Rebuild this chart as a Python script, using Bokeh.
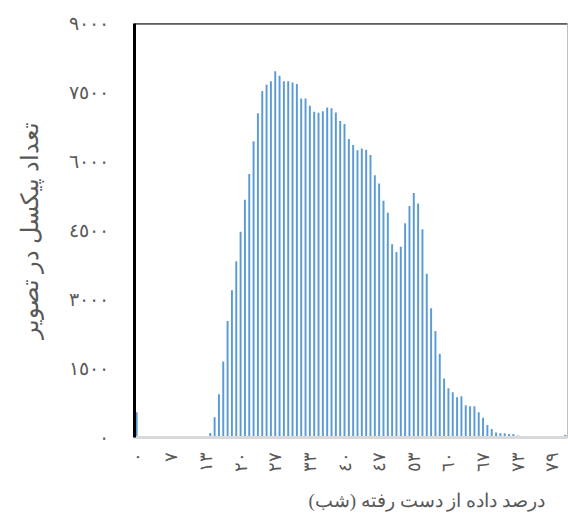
import math
from bokeh.plotting import figure
from bokeh.models import FixedTicker, Span, Title, ColumnDataSource, Range1d
from bokeh.embed import file_html
from bokeh.resources import INLINE

# pixel counts per bin
pixel_counts = [
    550, 0, 0, 0, 0, 0, 0, 0, 0, 0,
    0, 0, 0, 0, 0, 0, 0, 100, 440, 940,
    1650, 2530, 3200, 3830, 4475, 5170, 5730, 6440, 7050, 7530,
    7670, 7745, 7960, 7865, 7745, 7745, 7720, 7685, 7370, 7370,
    7210, 7080, 7060, 7095, 7175, 7155, 7065, 6880, 6815, 6490,
    6360, 6245, 6280, 6255, 6140, 5700, 5520, 5145, 4885, 4200,
    4030, 4145, 4655, 5030, 5315, 5085, 4525, 3560, 2810, 2315,
    1820, 1280, 1070, 985, 875, 895, 700, 680, 680, 550,
    430, 270, 185, 110, 95, 95, 75, 75, 45, 25,
    25, 25, 15, 15, 10, 5, 5, 5, 30, 60,
]
bin_index = list(range(len(pixel_counts)))

# category axis labels (shown every 8th category)
x_tick_labels = ["٠", "٧", "١٣", "٢٠", "٢٧", "٣٣", "٤٠", "٤٧", "٥٣", "٦٠", "٦٧", "٧٣", "٧٩"]
x_tick_index = bin_index[::8]

y_ticks = [0, 1500, 3000, 4500, 6000, 7500, 9000]
y_tick_labels = ["٠", "١٥٠٠", "٣٠٠٠", "٤٥٠٠", "٦٠٠٠", "٧٥٠٠", "٩٠٠٠"]

y_title = "تعداد پیکسل در تصویر"
x_title = "درصد داده از دست رفته (شب)"

FONT = "Liberation Serif"
TEXT = "#595959"

src = ColumnDataSource(dict(x=bin_index, top=pixel_counts))

p = figure(width=568, height=524, output_backend="svg", toolbar_location=None,
           x_range=Range1d(-0.5, len(pixel_counts) - 0.5), y_range=Range1d(0, 9000),
           min_border_left=134, min_border_right=1, min_border_top=23, min_border_bottom=85)

p.vbar(x="x", top="top", width=0.45, bottom=0, source=src,
       fill_color="#5B9BD5", line_color=None)

p.xgrid.grid_line_color = None
p.ygrid.grid_line_color = None
p.outline_line_color = "#BFBFBF"
p.outline_line_width = 1
p.background_fill_color = "white"
p.border_fill_color = "white"

# y axis
p.yaxis.ticker = FixedTicker(ticks=y_ticks)
p.yaxis.major_label_overrides = {t: l for t, l in zip(y_ticks, y_tick_labels)}
p.yaxis.minor_tick_line_color = None
p.yaxis.major_tick_line_color = None
p.yaxis.major_tick_out = 0
p.yaxis.major_tick_in = 0
p.yaxis.major_label_standoff = 26
p.yaxis.axis_line_color = "black"
p.yaxis.axis_line_width = 3
p.yaxis.major_label_text_font = FONT
p.yaxis.major_label_text_font_size = "19px"
p.yaxis.major_label_text_color = TEXT
p.yaxis.axis_label = y_title
p.yaxis.axis_label_text_font = FONT
p.yaxis.axis_label_text_font_size = "24px"
p.yaxis.axis_label_text_font_style = "normal"
p.yaxis.axis_label_text_color = TEXT
p.yaxis.axis_label_standoff = 23

# x axis
p.xaxis.ticker = FixedTicker(ticks=x_tick_index)
p.xaxis.major_label_overrides = {t: l for t, l in zip(x_tick_index, x_tick_labels)}
p.xaxis.minor_tick_line_color = None
p.xaxis.major_tick_line_color = None
p.xaxis.major_tick_out = 0
p.xaxis.major_tick_in = 0
p.xaxis.major_label_standoff = 14
p.xaxis.major_label_orientation = math.pi / 2
p.xaxis.axis_line_color = "#D9D9D9"
p.xaxis.axis_line_width = 3
p.xaxis.major_label_text_font = FONT
p.xaxis.major_label_text_font_size = "18px"
p.xaxis.major_label_text_color = TEXT

p.add_layout(Title(text=x_title, align="left", offset=174, text_font=FONT,
                   text_font_size="19px", text_font_style="normal",
                   text_color=TEXT, standoff=27), "below")

p.add_layout(Span(location=9000, dimension="width", line_color="black", line_width=2))

open("out.html", "w").write(file_html(p, INLINE))
